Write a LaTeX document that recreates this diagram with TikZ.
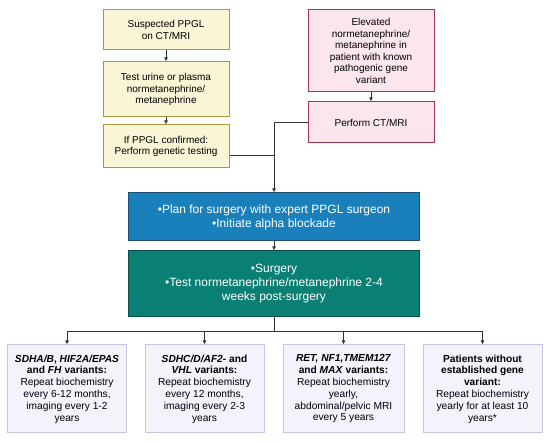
\documentclass[tikz,border=0pt]{standalone}
\usepackage{fontspec}
\setmainfont{Liberation Sans}
\usetikzlibrary{arrows.meta}
\definecolor{ylfill}{HTML}{F9F5D7}
\definecolor{yldraw}{HTML}{B4943E}
\definecolor{pkfill}{HTML}{FCE6EE}
\definecolor{pkdraw}{HTML}{A8344F}
\definecolor{blfill}{HTML}{1A80BB}
\definecolor{bldraw}{HTML}{1D4F72}
\definecolor{gnfill}{HTML}{0A7F74}
\definecolor{gndraw}{HTML}{0B4E47}
\definecolor{lvfill}{HTML}{F4F2FB}
\definecolor{lvdraw}{HTML}{C9C3E6}
\definecolor{ln}{HTML}{333333}

\begin{document}
\begin{tikzpicture}[x=1pt, y=-1pt,
    box/.style = {draw, line width=1pt, align=center, inner sep=2pt, font=\fontsize{10}{11.5}\selectfont},
    ybox/.style = {box, fill=ylfill, draw=yldraw, minimum width=126pt},
    pbox/.style = {box, fill=pkfill, draw=pkdraw, minimum width=126pt},
    wbox/.style = {box, text=white, minimum width=291pt, font=\fontsize{12}{14}\selectfont},
    lbox/.style = {box, fill=lvfill, draw=lvdraw, minimum width=119pt, minimum height=88pt, font=\fontsize{10.2}{11.8}\selectfont},
    arr/.style = {draw=ln, line width=0.9pt, -{Latex[length=4pt,width=4pt]}},
    lin/.style = {draw=ln, line width=0.9pt}]
  \useasboundingbox (0,0) rectangle (550,443);
  \fill[white] (0,0) rectangle (550,443);

  % left column
  \node[ybox, minimum height=40pt] (sus) at (166,30) {Suspected PPGL\\on CT/MRI};
  \node[ybox, minimum height=55pt] (urine) at (166,89.5) {Test urine or plasma\\normetanephrine/\\metanephrine};
  \node[ybox, minimum height=43pt] (gen) at (166,146.5) {If PPGL confirmed:\\Perform genetic testing};

  % right column
  \node[pbox, minimum height=82pt] (elev) at (371,51) {Elevated\\normetanephrine/\\metanephrine in\\patient with known\\pathogenic gene\\variant};
  \node[pbox, minimum height=41pt] (ct) at (371,122.5) {Perform CT/MRI};

  % middle
  \node[wbox, fill=blfill, draw=bldraw, minimum height=48pt] (plan) at (274,217) {•Plan for surgery with expert PPGL surgeon\\•Initiate alpha blockade};
  \node[wbox, fill=gnfill, draw=gndraw, minimum height=66pt] (surg) at (274,284) {•Surgery\\•Test normetanephrine/metanephrine 2-4\\weeks post-surgery};

  % follow-up
  \node[lbox] (sdha) at (67,389) {\textbf{\textit{SDHA/B}, \textit{HIF2A/EPAS}}\\\textbf{and \textit{FH} variants:}\\Repeat biochemistry\\every 6-12 months,\\imaging every 1-2\\years};
  \node[lbox] (sdhc) at (204.5,389) {\textbf{\textit{SDHC/D/AF2}- and}\\\textbf{\textit{VHL} variants:}\\Repeat biochemistry\\every 12 months,\\imaging every 2-3\\years};
  \node[lbox, minimum width=121pt] (ret) at (343.5,389) {\textbf{\textit{RET, NF1,TMEM127}}\\\textbf{and \textit{MAX} variants:}\\Repeat biochemistry\\yearly,\\abdominal/pelvic MRI\\every 5 years};
  \node[lbox] (none) at (482.5,389) {\textbf{Patients without}\\\textbf{established gene}\\\textbf{variant:}\\Repeat biochemistry\\yearly for at least 10\\years*};

  \coordinate (split) at (274,331);

  \draw[arr] (sus) -- (urine);
  \draw[arr] (urine) -- (gen);
  \draw[arr] (elev) -- (ct);
  \draw[lin] (gen.east |- 0,155) -- (274,155);
  \draw[arr] (ct.west) -| (plan.north);
  \draw[arr] (plan) -- (surg);
  \draw[lin] (surg.south) -- (split);
  \foreach \b in {sdha,sdhc,ret,none}
    \draw[arr] (split) -| (\b.north);
\end{tikzpicture}
\end{document}
